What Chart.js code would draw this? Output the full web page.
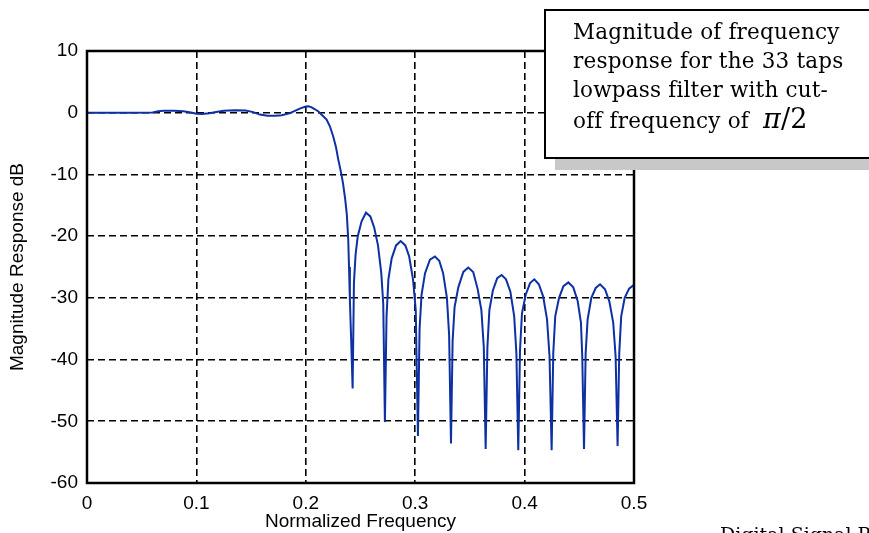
<!DOCTYPE html>
<html>
<head>
<meta charset="utf-8">
<script src="https://cdn.jsdelivr.net/npm/chart.js@4.4.0/dist/chart.umd.min.js"></script>
<style>
  html, body { margin: 0; padding: 0; background: #fff; }
  #wrap { position: relative; width: 869px; height: 533px; overflow: hidden; }
  #note {
    position: absolute; left: 544px; top: 9px; width: 340px; height: 150px;
    background: #fff; border: 2px solid #000; box-shadow: 11px 11px 0 #c8c8c8;
    font-family: "DejaVu Serif", "Liberation Serif", serif; font-size: 21.5px;
    line-height: 29px; color: #000; padding: 6px 0 0 27px; box-sizing: border-box;
    letter-spacing: 0.2px; white-space: nowrap;
  }
  #note .pi { font-style: italic; font-size: 27px; }
  #note .frac { font-size: 27px; }
  #foot {
    position: absolute; left: 720px; top: 523px; white-space: nowrap;
    font-family: "DejaVu Serif", serif; font-size: 19px; color: #000;
  }
</style>
</head>
<body>
<div id="wrap">
  <canvas id="myChart" width="869" height="533"></canvas>
  <div id="note">Magnitude of frequency<br>response for the 33 taps<br>lowpass filter with cut-<br>off frequency of &nbsp;<span class="pi">&pi;</span><span class="frac">/2</span></div>
  <div id="foot">Digital Signal Processing</div>
</div>
<script>
/* values */
var freq = [
  0, 0.02, 0.04, 0.06, 0.065, 0.07, 0.08, 0.088, 0.095, 0.1, 0.105, 0.112, 0.118, 0.125, 0.135, 0.145, 0.152,
  0.158, 0.165, 0.172, 0.178, 0.185, 0.19, 0.195, 0.2, 0.2023, 0.205, 0.208, 0.2115, 0.215, 0.219, 0.222,
  0.225, 0.2275, 0.2297, 0.232, 0.234, 0.236, 0.2375, 0.2388, 0.2395, 0.2403, 0.2415, 0.2428,
  0.244, 0.2455, 0.2475, 0.251, 0.255, 0.259, 0.2625, 0.266, 0.269, 0.2708, 0.2723,
  0.2738, 0.2755, 0.2785, 0.2825, 0.2867, 0.291, 0.2945, 0.298, 0.3005, 0.3025,
  0.304, 0.3058, 0.309, 0.3135, 0.318, 0.322, 0.3255, 0.329, 0.331, 0.3327,
  0.3342, 0.336, 0.3394, 0.344, 0.3485, 0.353, 0.357, 0.3605, 0.3627, 0.3644,
  0.366, 0.3678, 0.371, 0.375, 0.379, 0.383, 0.387, 0.3905, 0.3925, 0.3942,
  0.3958, 0.3976, 0.401, 0.405, 0.4089, 0.413, 0.417, 0.4205, 0.4228, 0.4247,
  0.4262, 0.428, 0.4315, 0.4355, 0.44, 0.4445, 0.4485, 0.4515, 0.4527, 0.4543,
  0.4558, 0.4576, 0.461, 0.465, 0.469, 0.4735, 0.4775, 0.481, 0.4832, 0.485,
  0.4865, 0.4883, 0.4915, 0.4955, 0.5
];
var magDb = [
  0, 0, 0, 0.05, 0.25, 0.3, 0.3, 0.25, 0.05, -0.15, -0.2, -0.1, 0.1, 0.3, 0.4, 0.35, 0.1,
  -0.3, -0.5, -0.5, -0.4, -0.1, 0.3, 0.7, 1.0, 1.05, 0.9, 0.6, 0.2, -0.4, -1.1, -2.2,
  -3.8, -5.5, -7.6, -9.5, -11.4, -14, -16.5, -20.6, -25, -30.4, -37, -44.7,
  -27.6, -23, -20, -17.6, -16.2, -16.8, -18.6, -21.5, -26, -31, -50.1,
  -33, -27, -23.6, -21.5, -20.8, -21.5, -23.3, -27, -32, -52.4,
  -35, -29.5, -26, -23.8, -23.3, -24, -26, -30, -36, -53.6,
  -37, -31.5, -28.3, -25.8, -25.1, -25.8, -28.5, -32, -38, -54.5,
  -38, -32, -28.8, -26.8, -26.3, -27, -29, -33, -39, -54.7,
  -38.5, -32.5, -29.5, -27.6, -27, -27.8, -29.8, -33.5, -39.5, -54.7,
  -39, -33, -30, -28.1, -27.5, -28.3, -30.5, -34, -39.5, -54.5,
  -39, -33.5, -30, -28.4, -27.8, -28.6, -30.6, -34, -39.5, -54,
  -39, -33, -30, -28.5, -27.9
];
var xTickLabels = ['0', '0.1', '0.2', '0.3', '0.4', '0.5'];
var yTickLabels = ['10', '0', '-10', '-20', '-30', '-40', '-50', '-60'];

var points = freq.map(function(f, i) { return { x: f, y: magDb[i] }; });

/* black frame round the plot area */
var frame = {
  id: 'frame',
  afterDraw: function(chart) {
    var a = chart.chartArea, c = chart.ctx;
    c.save();
    c.strokeStyle = '#000';
    c.lineWidth = 2.5;
    c.strokeRect(a.left, a.top, a.right - a.left, a.bottom - a.top);
    c.restore();
  }
};

var ctx = document.getElementById('myChart').getContext('2d');
var myChart = new Chart(ctx, {
  type: 'line',
  plugins: [frame],
  data: {
    datasets: [{
      data: points,
      borderColor: '#0d30a3',
      borderWidth: 2,
      pointRadius: 0,
      tension: 0,
      fill: false
    }]
  },
  options: {
    responsive: false,
    animation: false,
    layout: { padding: { top: 51, right: 235, left: 0, bottom: 0 } },
    plugins: { legend: { display: false }, tooltip: { enabled: false } },
    scales: {
      x: {
        type: 'linear', min: 0, max: 0.5,
        afterFit: function(s) { s.height = 50; },
        grid: { color: '#000', lineWidth: 1.6, drawTicks: false },
        border: { display: false, dash: [7, 4] },
        ticks: {
          stepSize: 0.1, padding: 9, color: '#000', maxRotation: 0,
          font: { family: 'Liberation Sans', size: 19 },
          callback: function(v, i) { return xTickLabels[i]; }
        },
        title: {
          display: true, text: 'Normalized Frequency', color: '#000',
          font: { family: 'Liberation Sans', size: 19 }, padding: { top: 0, bottom: 0 }
        }
      },
      y: {
        min: -60, max: 10,
        afterFit: function(s) { s.width = 87; },
        grid: { color: '#000', lineWidth: 1.6, drawTicks: false },
        border: { display: false, dash: [7, 4] },
        ticks: {
          stepSize: 10, padding: 9, color: '#000',
          font: { family: 'Liberation Sans', size: 19 },
          callback: function(v, i, t) { return yTickLabels[t.length - 1 - i]; }
        },
        title: {
          display: true, text: 'Magnitude Response dB', color: '#000',
          font: { family: 'Liberation Sans', size: 19 }, padding: { top: 6, bottom: 0 }
        }
      }
    }
  }
});
</script>
</body>
</html>
